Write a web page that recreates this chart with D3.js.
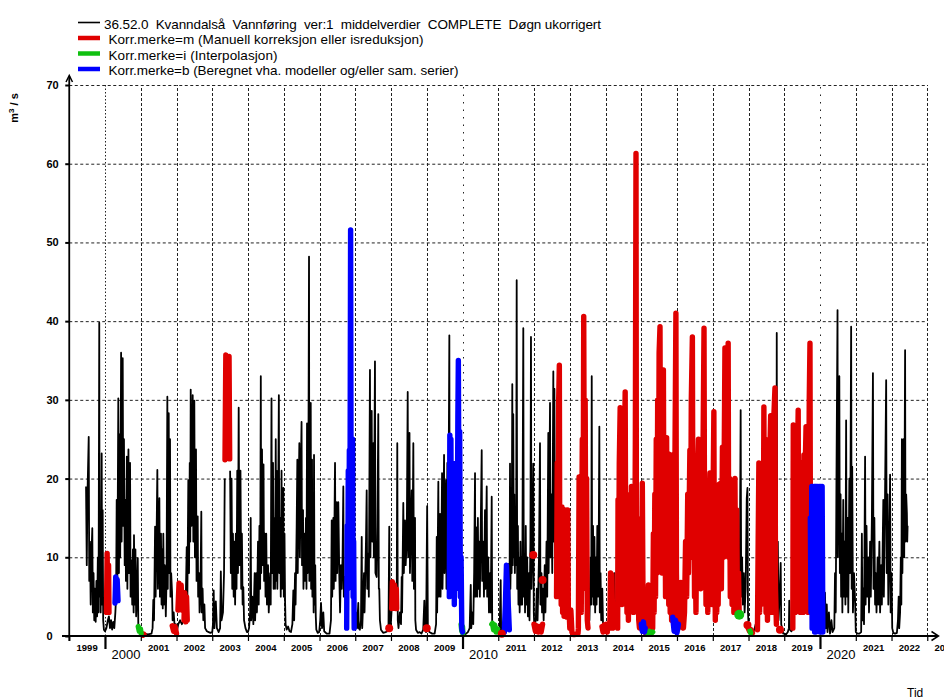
<!DOCTYPE html>
<html><head><meta charset="utf-8">
<script src="https://cdn.jsdelivr.net/npm/d3@7"></script>
<style>
body{margin:0;background:#fff}
svg{display:block}
text{font-family:"Liberation Sans",Arial,Helvetica,sans-serif;fill:#000}
</style>
</head><body>
<svg id="c" width="944" height="700"></svg>
<script>
// ---------------- data ----------------
const legendLabels = [
  "36.52.0  Kvanndalså  Vannføring  ver:1  middelverdier  COMPLETE  Døgn ukorrigert",
  "Korr.merke=m (Manuell korreksjon eller isreduksjon)",
  "Korr.merke=i (Interpolasjon)",
  "Korr.merke=b (Beregnet vha. modeller og/eller sam. serier)"
];
const seriesColors = ["#000000", "#e00000", "#10c010", "#0000ff"];
const yTicks = [0, 10, 20, 30, 40, 50, 60, 70];
const years = d3.range(1999, 2024);
const decadeYears = [2000, 2010, 2020];
const yTitle = ["m", "3", " / s"];
const xTitle = "Tid";

// daily discharge, [decimal year, m3/s]; null = break in the black line
const flowBlack = [
[1999.47,19],[1999.49,9],[1999.51,18],[1999.545,25.3],[1999.56,7],[1999.58,12],[1999.60,4],[1999.62,10],[1999.645,13.7],[1999.66,3],[1999.68,8],[1999.70,2],[1999.72,6],[1999.74,1.8],[1999.76,7],[1999.78,2.5],[1999.80,10],[1999.82,3],[1999.84,39.8],[1999.85,5],[1999.865,14],[1999.88,3],[1999.908,23.2],[1999.92,4],[1999.935,16],[1999.95,2],[1999.97,0.8],[2000.0,0.6],[2000.04,1],[2000.08,2],[2000.11,2.5],[2000.14,1],[2000.17,2],[2000.20,0.8],[2000.23,1.8],[2000.26,1],[2000.29,3],[2000.31,5],[2000.327,17.3],[2000.345,6],[2000.372,30.2],[2000.39,8],[2000.41,25.6],[2000.425,10],[2000.45,36],[2000.465,12],[2000.495,35.3],[2000.51,14],[2000.53,25],[2000.55,9],[2000.57,17.3],[2000.585,7],[2000.61,22.8],[2000.625,6],[2000.655,23.7],[2000.67,8],[2000.70,22],[2000.715,5],[2000.745,9.6],[2000.76,4],[2000.78,11],[2000.80,3],[2000.81,12.8],[2000.83,4],[2000.85,11],[2000.87,2.5],[2000.89,5],[2000.915,9.9],[2000.93,1.5],[2000.95,0.8],[2000.98,0.5],
[2001.02,0.4],[2001.10,0.3],[2001.20,0.2],[2001.30,0.3],[2001.33,1],[2001.35,4.6],[2001.37,2],[2001.40,13.9],[2001.415,5],[2001.44,12],[2001.463,21.1],[2001.48,6],[2001.50,12],[2001.52,17.5],[2001.535,5],[2001.565,13],[2001.58,4],[2001.60,11],[2001.615,3.5],[2001.63,13],[2001.65,4],[2001.67,9],[2001.687,5.8],[2001.70,2.5],[2001.72,7],[2001.743,30.4],[2001.755,6],[2001.782,28.3],[2001.795,8],[2001.818,25],[2001.83,5],[2001.85,8],[2001.874,5.6],[2001.89,2],[2001.92,3],[2001.95,1],[2001.98,1.5],
[2002.01,0.6],[2002.05,1.5],[2002.10,2],[2002.15,1.5],[2002.20,2],[2002.25,2.5],[2002.285,11.3],[2002.30,3],[2002.33,19.8],[2002.35,8],[2002.37,22],[2002.385,12],[2002.397,31.3],[2002.42,14],[2002.44,25],[2002.453,30.6],[2002.47,12],[2002.498,29.9],[2002.515,10],[2002.545,23.7],[2002.56,7],[2002.593,15.2],[2002.605,5],[2002.63,8],[2002.645,3],[2002.67,6],[2002.694,15.8],[2002.705,3],[2002.73,6],[2002.75,2],[2002.78,4],[2002.80,1],[2002.85,0.6],[2002.90,0.5],[2002.95,0.4],[2003.0,0.5],
[2003.02,1.5],[2003.04,5.8],[2003.06,1],[2003.10,4.4],[2003.13,1],[2003.18,0.5],[2003.22,1],[2003.24,8.2],[2003.26,2],[2003.30,3],[2003.33,8],[2003.35,20],null,
[2003.50,21],[2003.52,8],[2003.54,20],[2003.56,6],[2003.58,13],[2003.60,5],[2003.62,12],[2003.64,4],[2003.66,13],[2003.68,6],[2003.70,21],[2003.72,8],[2003.74,29],[2003.76,9],[2003.79,21],[2003.81,6],[2003.83,13],[2003.85,4],[2003.87,6.2],[2003.89,2],[2003.93,1],[2003.97,0.5],
[2004.0,0.5],[2004.03,1],[2004.06,3],[2004.076,15],[2004.09,2],[2004.12,5],[2004.15,1.5],[2004.187,8],[2004.20,2],[2004.232,8],[2004.25,3],[2004.28,12],[2004.30,4],[2004.32,14],[2004.34,6],[2004.358,33],[2004.37,8],[2004.392,23.7],[2004.41,9],[2004.434,21.8],[2004.45,7],[2004.47,13],[2004.49,5],[2004.51,13],[2004.53,4],[2004.56,9],[2004.58,3],[2004.62,8],[2004.635,4],[2004.657,30.2],[2004.67,8],[2004.699,22],[2004.715,6],[2004.74,15],[2004.755,6],[2004.775,25],[2004.79,7],[2004.80,21],[2004.82,6],[2004.84,14],[2004.862,30.6],[2004.875,8],[2004.90,15],[2004.915,5],[2004.937,21],[2004.95,6],[2004.987,18.8],[2005.0,5],[2005.02,13],[2005.035,4.6],[2005.05,1.5],[2005.08,0.8],[2005.12,1.2],[2005.16,0.6],
[2005.20,0.5],[2005.24,1.5],[2005.267,5.8],[2005.29,2],[2005.315,8],[2005.33,4],[2005.36,14],[2005.379,22.4],[2005.39,8],[2005.41,16],[2005.435,24.5],[2005.45,10],[2005.475,20],[2005.497,27.2],[2005.51,9],[2005.538,16],[2005.55,6],[2005.575,13],[2005.594,7],[2005.62,15],[2005.635,6],[2005.65,27],[2005.665,8],[2005.685,16],[2005.706,48.2],[2005.715,7],[2005.735,18],[2005.754,29.6],[2005.765,6],[2005.79,22.4],[2005.80,5],[2005.82,12],[2005.835,3],[2005.846,23],[2005.86,4],[2005.88,9],[2005.895,2.5],[2005.91,0.8],[2005.95,0.4],[2005.99,0.5],
[2006.02,2],[2006.042,4.2],[2006.07,1],[2006.106,3],[2006.13,0.6],[2006.20,0.3],[2006.28,0.3],[2006.32,2],[2006.341,14.7],[2006.355,5],[2006.386,15],[2006.40,6],[2006.434,22],[2006.45,7],[2006.481,17],[2006.495,8],[2006.526,17],[2006.554,7.5],[2006.575,3],[2006.60,9],[2006.621,6],[2006.645,10],[2006.666,19],[2006.68,5],[2006.713,7.5],[2006.73,3],[2006.75,2],null,
[2006.97,6],[2006.98,2],[2006.99,5],[2007.0,1],[2007.02,3],[2007.05,1],[2007.085,4.2],[2007.10,1],[2007.13,0.8],[2007.16,2],[2007.181,12.6],[2007.195,1],[2007.22,4],[2007.245,8],[2007.26,3],[2007.30,12],[2007.32,18.5],[2007.335,6],[2007.365,10.5],[2007.38,5],[2007.412,33.8],[2007.425,10],[2007.46,28.6],[2007.475,12],[2007.505,24.5],[2007.52,10],[2007.552,34.9],[2007.565,8],[2007.60,7.5],[2007.62,14],[2007.645,28.2],[2007.66,6],[2007.673,6],[2007.69,2],[2007.72,0.8],[2007.78,0.4],[2007.85,0.5],[2007.90,0.6],[2007.93,1],[2007.952,13.9],[2007.965,1.5],[2007.99,1],[2008.02,3.5],[2008.09,4],[2008.16,4],[2008.176,24.5],[2008.19,2],[2008.21,1],[2008.25,3],[2008.28,1.5],[2008.299,7.5],[2008.31,3],[2008.344,16.9],[2008.36,8],[2008.392,14.7],[2008.41,9],[2008.44,12],[2008.467,31],[2008.48,10],[2008.517,25.8],[2008.53,8],[2008.555,14],[2008.579,18.5],[2008.595,7],[2008.624,24.5],[2008.64,6],[2008.671,15],[2008.68,2],[2008.70,0.8],[2008.75,0.4],[2008.80,0.5],[2008.85,0.3],[2008.90,0.8],[2008.931,4.5],[2008.95,0.8],[2008.98,0.5],
[2009.01,16.5],[2009.03,1],[2009.07,0.5],[2009.15,0.3],[2009.22,0.3],[2009.26,1.5],[2009.278,12.6],[2009.29,3],[2009.323,19.6],[2009.335,5],[2009.371,15.5],[2009.385,5],[2009.41,12],[2009.427,20.7],[2009.44,6],[2009.465,14],[2009.483,23],[2009.495,8],[2009.52,15],[2009.538,19.8],[2009.55,6],[2009.575,22],[2009.60,10],[2009.631,38.2],[2009.64,8],null,
[2010.01,0.3],[2010.06,0.2],[2010.10,0.3],[2010.15,0.5],[2010.20,1],[2010.23,6.5],[2010.245,1],[2010.27,3],[2010.30,1.5],[2010.325,8],[2010.35,20.7],[2010.36,5],[2010.398,13.8],[2010.41,5],[2010.43,15],[2010.445,6],[2010.47,12],[2010.485,5],[2010.51,14],[2010.537,23.6],[2010.55,7],[2010.58,12],[2010.60,5],[2010.629,16],[2010.64,6],[2010.677,19],[2010.69,5],[2010.72,10],[2010.74,3],[2010.77,8],[2010.79,3],[2010.817,17.7],[2010.83,2],[2010.85,0.8],[2010.90,0.5],[2010.95,0.4],[2011.0,0.3],[2011.04,1],[2011.068,7.1],[2011.08,0.8],[2011.12,0.5],[2011.16,1],[2011.20,2],[2011.25,4],[2011.28,3],
[2011.30,9.2],[2011.315,3],[2011.329,21.9],[2011.34,6],[2011.36,14],[2011.375,8],[2011.393,32],[2011.405,9],[2011.42,28.2],[2011.435,10],[2011.45,18],[2011.465,8],[2011.485,14],[2011.50,9],[2011.516,45.2],[2011.53,6],[2011.55,14],[2011.565,4],[2011.58,10],[2011.60,3],[2011.62,12],[2011.635,4],[2011.65,10],[2011.67,4],[2011.701,39.1],[2011.715,5],[2011.735,9],[2011.75,3],[2011.77,14],[2011.785,4],[2011.81,10],[2011.83,2.5],[2011.86,8],[2011.875,2],[2011.90,12],[2011.916,38],[2011.93,6],[2011.96,12],[2011.98,21.9],[2011.995,3],[2012.01,1],
[2012.05,2],[2012.08,6],[2012.10,2],[2012.14,10],[2012.168,24.5],[2012.18,4],[2012.21,8],[2012.225,3],[2012.25,6],[2012.27,2],[2012.30,9],[2012.32,3],[2012.35,12],[2012.37,5],[2012.40,25.8],[2012.41,8],[2012.448,29.6],[2012.46,10],[2012.49,18],[2012.51,8],[2012.54,33.6],[2012.55,12],[2012.57,31.4],[2012.59,10],[2012.62,20],[2012.63,5],null,
[2013.51,1.5],[2013.53,6],[2013.55,2],[2013.58,10],[2013.60,4],[2013.614,33],[2013.625,5],[2013.65,14],[2013.665,4],[2013.69,12.6],[2013.71,3],[2013.73,10],[2013.75,4],[2013.77,14],[2013.79,5],[2013.81,12],[2013.827,26.6],[2013.84,3],[2013.86,8],[2013.88,2],[2013.91,6],[2013.93,1.5],[2013.96,1],[2013.99,1.5],[2014.02,0.8],[2014.05,1.2],[2014.08,0.5],[2014.11,1],[2014.15,1.5],[2014.21,1],[2014.235,6.8],[2014.25,8],[2014.27,2],[2014.30,4],[2014.32,1],[2014.34,1],null,
[2017.74,3],[2017.76,12],[2017.78,28.7],[2017.795,5],[2017.82,10],[2017.84,4],[2017.87,8],[2017.89,3],[2017.92,6],[2017.95,17.5],[2017.97,18.8],[2017.985,3],[2018.0,1.5],[2018.04,0.8],[2018.08,0.2],[2018.12,0.4],[2018.16,0.8],[2018.20,1.5],[2018.24,0.8],null,
[2018.78,2],[2018.79,38.5],[2018.80,6],[2018.82,12],[2018.84,2],[2018.87,5],[2018.90,9.3],[2018.915,1.5],[2018.94,1],[2018.97,0.3],[2019.0,0.3],[2019.05,0.2],[2019.10,0.5],[2019.13,1],[2019.14,4.5],[2019.16,0.8],[2019.20,0.6],[2019.24,1],null,
[2020.08,0.5],[2020.10,3],[2020.12,0.8],[2020.14,5.5],[2020.16,1],[2020.19,4],[2020.21,0.5],[2020.25,3],[2020.28,0.3],[2020.32,2],[2020.35,0.5],[2020.40,1],[2020.42,8],[2020.44,3],[2020.46,20],[2020.49,41.4],[2020.50,10],[2020.52,25],[2020.54,33],[2020.555,8],[2020.575,18],[2020.59,5],[2020.61,13],[2020.625,3],[2020.65,17.3],[2020.665,5],[2020.69,12],[2020.71,4],[2020.73,27.4],[2020.745,5],[2020.77,15],[2020.79,3],[2020.82,20],[2020.84,8],[2020.87,39.3],[2020.885,6],[2020.90,21.5],[2020.92,3],[2020.95,8],[2020.98,4.5],[2021.0,0.5],[2021.05,0.3],[2021.10,0.3],[2021.15,0.5],
[2021.17,13],[2021.185,2],[2021.21,6],[2021.23,1.5],[2021.26,22.8],[2021.275,4],[2021.30,14],[2021.32,5],[2021.35,10],[2021.37,3],[2021.40,12],[2021.42,5],[2021.45,15],[2021.48,33.4],[2021.495,6],[2021.52,15],[2021.54,4],[2021.56,8],[2021.58,3],[2021.61,10],[2021.63,4],[2021.66,12],[2021.68,3],[2021.71,9],[2021.73,4],[2021.77,17.3],[2021.785,5],[2021.81,14],[2021.85,32.5],[2021.865,8],[2021.89,18],[2021.91,4],[2021.94,12],[2021.96,20.5],[2021.975,3],[2022.0,8],[2022.02,1],[2022.05,0.4],[2022.10,0.3],[2022.15,0.4],
[2022.18,2],[2022.20,5],[2022.215,1],[2022.24,3],[2022.26,10],[2022.275,4],[2022.29,25],[2022.305,8],[2022.32,18],[2022.34,25],[2022.355,10],[2022.38,36.3],[2022.39,12],[2022.41,18],[2022.43,15.6],[2022.44,12],[2022.45,14]
];

// Korr.merke = m (manual correction)
const flowRed = [
[2000.042,3],[2000.06,10.5],[2000.08,3.5],[2000.10,9],[2000.112,3],null,
[2001.03,0.3],[2001.06,0.1],[2001.09,0.2],null,
[2001.88,1.3],[2001.92,0.6],[2001.96,1.2],[2002.0,0.3],null,
[2002.04,3.3],[2002.07,6.7],[2002.10,3.5],[2002.13,6.5],[2002.16,3.3],null,
[2002.21,2],[2002.23,5.5],[2002.26,1.8],[2002.28,5],[2002.30,2],null,
[2003.357,22.4],[2003.38,35.7],[2003.41,34],[2003.44,24],[2003.47,35.5],[2003.488,22.5],null,
[2008.02,3.5],[2008.04,6.9],[2008.07,3.8],[2008.10,6.5],[2008.13,3.5],[2008.15,6],[2008.16,3.5],null,
[2012.0,1.5],[2012.04,0.6],[2012.08,1.3],[2012.12,0.5],[2012.16,1.2],[2012.20,0.5],[2012.24,1.5],null,
[2012.63,5],[2012.65,22],[2012.67,6],[2012.69,30],[2012.708,34.4],[2012.72,10],[2012.74,16],[2012.76,4],[2012.78,16.4],[2012.80,3],[2012.82,15],[2012.84,2.5],[2012.86,16],[2012.88,3],[2012.90,15],[2012.92,2.4],[2012.94,16],[2012.96,3],[2012.98,3.3],[2013.0,1],[2013.03,3.3],[2013.06,0.5],[2013.09,0.2],[2013.15,0.2],[2013.23,0.3],
[2013.24,1],[2013.26,20.2],[2013.28,5],[2013.30,18],[2013.32,3],[2013.35,25],[2013.37,8],[2013.39,40.6],[2013.41,10],[2013.43,30],[2013.45,6],[2013.47,20],[2013.49,2],[2013.51,1],null,
[2013.90,1.2],[2013.93,0.5],[2013.96,1.4],[2013.99,0.6],[2014.02,1.5],[2014.05,0.5],null,
[2014.12,1],[2014.14,8],[2014.16,3],[2014.18,7.8],[2014.20,1],null,
[2014.34,1],[2014.35,17.3],[2014.365,5],[2014.385,22],[2014.41,29],[2014.425,8],[2014.445,20],[2014.46,4],[2014.48,17],[2014.50,6],[2014.525,22],[2014.55,31],[2014.565,10],[2014.585,18],[2014.60,3],[2014.62,12],[2014.64,2],[2014.66,10],[2014.69,17.3],[2014.705,4],[2014.725,19],[2014.74,6],[2014.76,18],[2014.78,3],[2014.80,19],[2014.82,10],[2014.835,25],[2014.853,61.3],[2014.865,8],[2014.88,15],[2014.895,3],[2014.91,12],[2014.93,2],[2014.95,1],[2014.97,2],[2015.0,2],[2015.02,12],[2015.03,19.4],[2015.05,4],[2015.07,1],[2015.10,0.5],[2015.14,0.3],[2015.17,1],[2015.20,6.5],[2015.22,2],[2015.25,5],[2015.28,0.8],
[2015.32,1],[2015.34,13],[2015.36,3],[2015.38,18],[2015.40,5],[2015.42,25],[2015.44,8],[2015.46,30],[2015.48,12],[2015.50,36],[2015.525,39.3],[2015.54,15],[2015.56,30],[2015.58,8],[2015.60,28],[2015.62,33.8],[2015.635,10],[2015.66,22],[2015.68,5],[2015.71,25.2],[2015.725,6],[2015.75,23.2],[2015.77,4],[2015.79,20],[2015.81,3],[2015.83,23],[2015.85,2],[2015.87,22],[2015.89,2],[2015.92,10],[2015.94,20],[2015.97,41],[2015.985,8],[2016.0,3],
[2016.04,1],[2016.09,3],[2016.11,6.8],[2016.13,2],[2016.16,6.5],[2016.18,1],[2016.21,3],[2016.24,12],[2016.27,5],[2016.30,18],[2016.32,8],[2016.36,23.6],[2016.38,10],[2016.40,30],[2016.43,38],[2016.445,12],[2016.47,22],[2016.49,5],[2016.51,12],[2016.53,3],[2016.56,18],[2016.60,25],[2016.615,8],[2016.64,24],[2016.66,6],[2016.69,20],[2016.71,10],[2016.73,25],[2016.755,39.1],[2016.77,12],[2016.79,18],[2016.81,4],[2016.84,12],[2016.86,3],[2016.89,15],[2016.92,20.7],[2016.935,5],[2016.96,14],[2016.98,4],[2017.03,28.5],[2017.045,6],[2017.06,10],[2017.07,2],
[2017.09,10],[2017.11,3],[2017.13,14],[2017.15,4],[2017.18,19.3],[2017.20,8],[2017.22,19.4],[2017.24,6],[2017.27,24],[2017.30,10],[2017.34,36.6],[2017.36,14],[2017.39,26],[2017.41,12],[2017.43,37.2],[2017.445,10],[2017.47,20],[2017.49,5],[2017.52,18],[2017.54,4],[2017.57,16],[2017.59,3],[2017.62,20],[2017.64,5],[2017.67,16],[2017.69,3],[2017.72,8],[2017.74,2.5],null,
[2017.99,1],[2018.03,0.6],[2018.07,0.8],[2018.11,0.4],null,
[2018.25,0.8],[2018.27,12],[2018.29,22],[2018.31,3],[2018.34,18],[2018.36,4],[2018.39,20],[2018.41,5],[2018.43,29.1],[2018.445,8],[2018.47,25],[2018.49,3],[2018.51,20.5],[2018.53,2],[2018.55,15],[2018.57,3],[2018.60,24],[2018.62,28],[2018.635,5],[2018.66,14],[2018.68,3],[2018.71,28],[2018.74,31.5],[2018.755,6],[2018.78,1.5],null,
[2019.24,1],[2019.253,26.8],[2019.27,5],[2019.29,20],[2019.31,3],[2019.33,24],[2019.35,6],[2019.37,22],[2019.39,28.7],[2019.405,5],[2019.43,22],[2019.45,3],[2019.47,22],[2019.49,5],[2019.51,20],[2019.53,3],[2019.55,23],[2019.57,6],[2019.59,22],[2019.61,26.6],[2019.625,4],[2019.65,15],[2019.67,3],[2019.70,30],[2019.72,37.2],[2019.735,8]
];

// Korr.merke = b (computed from models)
const flowBlue = [
[2000.28,4.2],[2000.30,7.5],[2000.32,4.5],[2000.34,7.2],[2000.364,4.5],null,
[2006.76,1],[2006.775,14],[2006.79,6],[2006.805,21],[2006.82,8],[2006.835,23.6],[2006.85,10],[2006.87,51.6],[2006.885,15],[2006.90,25],[2006.91,8],[2006.925,25],[2006.94,5],[2006.955,12],[2006.97,1],null,
[2009.63,5],[2009.645,25.5],[2009.66,10],[2009.675,25],[2009.69,8],[2009.71,22],[2009.73,6],[2009.75,21],[2009.77,4],[2009.79,20],[2009.81,6],[2009.83,22],[2009.85,10],[2009.87,28],[2009.883,35],[2009.90,15],[2009.92,26],[2009.94,5],[2009.96,10],[2009.98,1],[2010.0,0.5],null,
[2011.17,0.5],[2011.20,4],[2011.23,9],[2011.26,6],[2011.29,3],[2011.31,0.8],null,
[2015.0,1.5],[2015.03,0.6],[2015.06,1.8],[2015.09,0.5],[2015.11,1],null,
[2015.88,2.4],[2015.92,0.6],[2015.96,2],[2016.0,0.4],[2016.04,1.5],null,
[2019.73,15],[2019.75,3],[2019.77,19],[2019.78,1],[2019.80,19],[2019.82,2],[2019.84,19],[2019.85,0.5],[2019.87,19],[2019.885,0.5],[2019.90,19],[2019.92,1],[2019.94,19],[2019.96,2],[2019.98,19],[2020.0,0.5],[2020.02,19],[2020.04,0.5],[2020.06,19],[2020.08,0.5]
];

// Korr.merke = i (interpolation)
const flowGreen = [
[2000.93,1.2],[2000.96,0.6],[2000.99,0.9],[2001.01,0.3],null,
[2009.96,1.5],[2009.98,0.6],[2010.0,1.2],[2010.01,0.3],null,
[2010.82,1.5],[2010.84,1.6],[2010.87,0.8],[2010.90,1.4],[2010.94,0.5],[2010.98,0.9],null,
[2015.19,0.3],[2015.23,0.6],[2015.27,0.3],[2015.32,0.5],null,
[2018.04,0.7],[2018.06,0.4]
];

// single flagged days
const redDots = [[2007.95,1],[2008.998,1],[2011.10,0.3],[2011.98,10.3],[2012.24,7.1],[2017.97,1.4],[2018.88,0.8]];
const greenDots = [[2017.74,2.7]];

// ---------------- drawing ----------------
const svg = d3.select("#c");
const toDate = t => {
  const yr = Math.floor(t);
  const s = Date.UTC(yr, 0, 1), e = Date.UTC(yr + 1, 0, 1);
  return new Date(s + (t - yr) * (e - s));
};
const x = d3.scaleUtc()
  .domain([new Date(Date.UTC(1999, 0, 1)), new Date(Date.UTC(2023, 0, 1))])
  .range([69.25, 927.25]);
const y = d3.scaleLinear().domain([0, 70]).range([636, 85]);

// gridlines
const grid = svg.append("g");
grid.selectAll("line.h").data(yTicks.filter(v => v > 0)).join("line")
  .attr("x1", x.range()[0]).attr("x2", x.range()[1])
  .attr("y1", d => y(d) + 0.5).attr("y2", d => y(d) + 0.5)
  .attr("stroke", "#222").attr("stroke-width", 1).attr("stroke-dasharray", "3,2.5");
grid.selectAll("line.v").data(years.filter(v => v > 1999)).join("line")
  .attr("x1", d => Math.round(x(toDate(d))) + 0.5).attr("x2", d => Math.round(x(toDate(d))) + 0.5)
  .attr("y1", y(0)).attr("y2", y(70))
  .attr("stroke", "#222").attr("stroke-width", 1)
  .attr("stroke-dasharray", d => d === 2000 ? "1.5,2" : (decadeYears.includes(d) ? "1.5,6" : "3,2"));

// data
const line = d3.line()
  .defined(d => d !== null)
  .x(d => x(toDate(d[0])))
  .y(d => y(d[1]));
const plot = svg.append("g");
plot.append("path").attr("d", line(flowBlack))
  .attr("fill", "none").attr("stroke", seriesColors[0]).attr("stroke-width", 1.8)
  .attr("stroke-linejoin", "round");
[[flowRed, seriesColors[1]], [flowGreen, seriesColors[2]], [flowBlue, seriesColors[3]]].forEach(([arr, col]) => {
  plot.append("path").attr("d", line(arr))
    .attr("fill", "none").attr("stroke", col).attr("stroke-width", 5.4)
    .attr("stroke-linejoin", "round").attr("stroke-linecap", "round");
});
plot.selectAll("circle.r").data(redDots).join("circle")
  .attr("cx", d => x(toDate(d[0]))).attr("cy", d => y(d[1])).attr("r", 4)
  .attr("fill", seriesColors[1]);
plot.selectAll("circle.g").data(greenDots).join("circle")
  .attr("cx", d => x(toDate(d[0]))).attr("cy", d => y(d[1])).attr("r", 5)
  .attr("fill", seriesColors[2]);

// y axis
const yAxis = svg.append("g").attr("transform", `translate(${x.range()[0]},0)`)
  .call(d3.axisLeft(y).tickValues(yTicks).tickSize(4).tickFormat(d3.format("d")));
yAxis.select(".domain").remove();
yAxis.selectAll(".tick line").attr("stroke-width", 2);
yAxis.selectAll(".tick text")
  .attr("x", 46.5 - x.range()[0]).attr("text-anchor", "start")
  .style("font-size", "11px").style("font-weight", "bold")
  .style("font-family", '"Liberation Sans",Arial,sans-serif');
svg.append("line").attr("x1", 69.25).attr("x2", 69.25).attr("y1", 641).attr("y2", 76)
  .attr("stroke", "#000").attr("stroke-width", 1.8);
svg.append("path").attr("d", "M66,82 L69.25,75.5 L72.5,82")
  .attr("fill", "none").attr("stroke", "#000").attr("stroke-width", 1.5);

// x axis
const xAxis = svg.append("g").attr("transform", `translate(0,${y(0)})`)
  .call(d3.axisBottom(x).ticks(d3.utcYear.every(1)).tickSize(5).tickFormat(""));
xAxis.select(".domain").remove();
xAxis.selectAll(".tick line").attr("stroke-width", 1.2);
xAxis.selectAll(".tick").filter(d => decadeYears.includes(d.getUTCFullYear()))
  .select("line").attr("y2", 13).attr("stroke-width", 2.2);
svg.append("line").attr("x1", 62).attr("x2", 938).attr("y1", 636).attr("y2", 636)
  .attr("stroke", "#000").attr("stroke-width", 1.8);
svg.append("path").attr("d", "M931.5,631.5 L938.5,636 L931.5,640.5")
  .attr("fill", "none").attr("stroke", "#000").attr("stroke-width", 1.5);

// year labels
svg.append("g").selectAll("text").data(years.filter(v => !decadeYears.includes(v))).join("text")
  .attr("x", d => x(toDate(d + 0.5))).attr("y", 650.5)
  .attr("text-anchor", "middle")
  .style("font-size", "9.5px").style("font-weight", "bold")
  .text(d => d);
svg.append("g").selectAll("text").data(decadeYears).join("text")
  .attr("x", d => x(toDate(d)) + 6.5).attr("y", 658.5)
  .style("font-size", "13px")
  .text(d => d);

// axis titles
svg.append("text").attr("x", 907).attr("y", 697).style("font-size", "12px").text(xTitle);
const yt = svg.append("text").attr("transform", "translate(18,108) rotate(-90)")
  .attr("text-anchor", "middle").style("font-size", "11px").style("font-weight", "bold");
yt.append("tspan").text(yTitle[0]);
yt.append("tspan").attr("dy", -4.5).style("font-size", "8px").text(yTitle[1]);
yt.append("tspan").attr("dy", 4.5).text(yTitle[2]);

// legend
const lg = svg.append("g");
const rowsY = [22.5, 38, 53.5, 69];
const rowsText = [{x: 104, y: 28.5, len: 497}, {x: 108.5, y: 44, len: 315}, {x: 108.5, y: 59.5, len: 169}, {x: 108.5, y: 75, len: 350}];
legendLabels.forEach((lab, i) => {
  lg.append("line").attr("x1", 78).attr("x2", 100).attr("y1", rowsY[i]).attr("y2", rowsY[i])
    .attr("stroke", seriesColors[i]).attr("stroke-width", i === 0 ? 1.6 : 4.5);
  lg.append("text").attr("x", rowsText[i].x).attr("y", rowsText[i].y)
    .attr("xml:space", "preserve").style("white-space", "pre")
    .attr("textLength", rowsText[i].len).attr("lengthAdjust", "spacing")
    .style("font-size", "13.5px").text(lab);
});
</script>
</body></html>
